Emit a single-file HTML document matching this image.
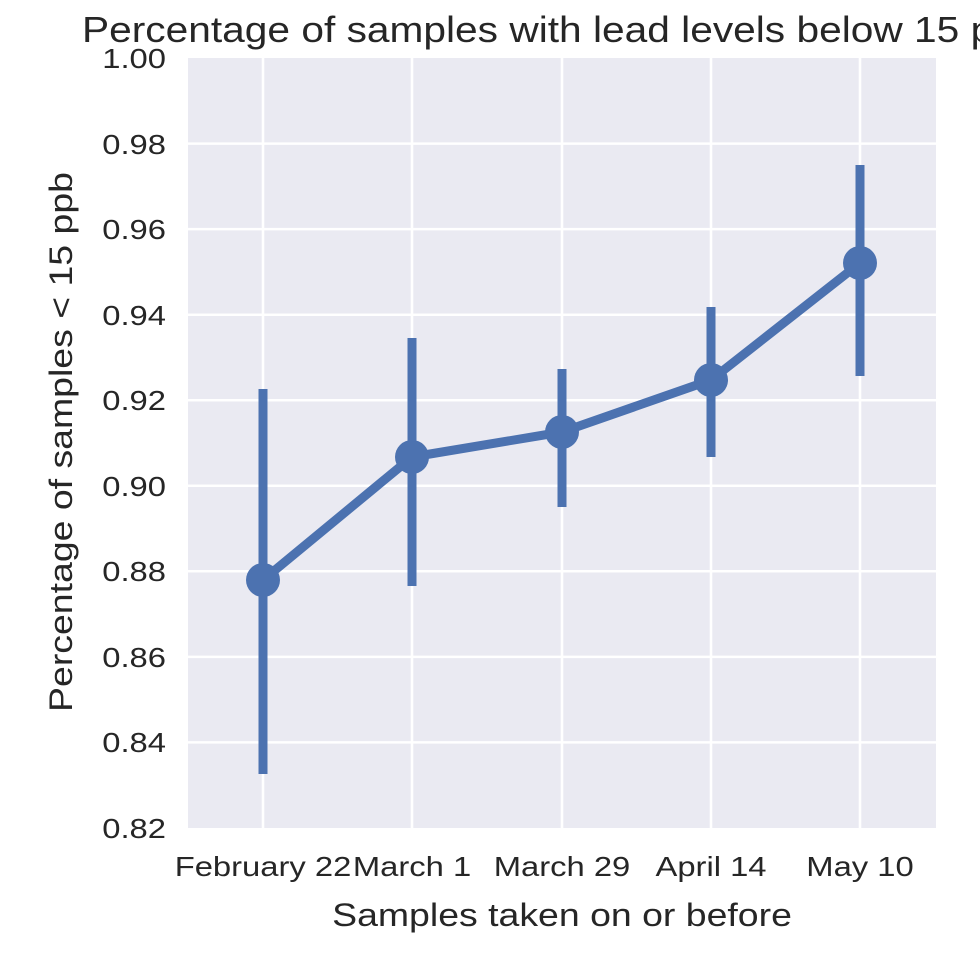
<!DOCTYPE html>
<html><head><style>
html,body{margin:0;padding:0;background:#fff;}
svg{display:block;font-family:"Liberation Sans",sans-serif;}
</style></head><body>
<svg width="980" height="980" viewBox="0 0 980 980" xmlns="http://www.w3.org/2000/svg">
<rect x="188" y="58" width="748" height="770" fill="#eaeaf2"/>
<g stroke="#fff" stroke-width="2.5">
<line x1="188" x2="936" y1="143.6" y2="143.6"/>
<line x1="188" x2="936" y1="229.1" y2="229.1"/>
<line x1="188" x2="936" y1="314.7" y2="314.7"/>
<line x1="188" x2="936" y1="400.2" y2="400.2"/>
<line x1="188" x2="936" y1="485.8" y2="485.8"/>
<line x1="188" x2="936" y1="571.3" y2="571.3"/>
<line x1="188" x2="936" y1="656.9" y2="656.9"/>
<line x1="188" x2="936" y1="742.4" y2="742.4"/>
<line x1="263" x2="263" y1="58" y2="828"/>
<line x1="412" x2="412" y1="58" y2="828"/>
<line x1="562" x2="562" y1="58" y2="828"/>
<line x1="711" x2="711" y1="58" y2="828"/>
<line x1="860" x2="860" y1="58" y2="828"/>
</g>
<g stroke="#4c72b0" stroke-width="9" stroke-linecap="butt">
<line x1="263" x2="263" y1="389" y2="774"/>
<line x1="412" x2="412" y1="338" y2="586"/>
<line x1="562" x2="562" y1="369" y2="507"/>
<line x1="711" x2="711" y1="307" y2="457"/>
<line x1="860" x2="860" y1="165" y2="376"/>
</g>
<polyline points="263,580 412,457 562,432 711,380 860,263" fill="none" stroke="#4c72b0" stroke-width="9" stroke-linejoin="round"/>
<g fill="#4c72b0">
<circle cx="263" cy="580" r="17"/>
<circle cx="412" cy="457" r="17"/>
<circle cx="562" cy="432" r="17"/>
<circle cx="711" cy="380" r="17"/>
<circle cx="860" cy="263" r="17"/>
</g>
<g font-size="28" fill="#262626" text-anchor="end">
<text transform="translate(166,68) scale(1.17,1)">1.00</text>
<text transform="translate(166,154) scale(1.17,1)">0.98</text>
<text transform="translate(166,239) scale(1.17,1)">0.96</text>
<text transform="translate(166,325) scale(1.17,1)">0.94</text>
<text transform="translate(166,410) scale(1.17,1)">0.92</text>
<text transform="translate(166,496) scale(1.17,1)">0.90</text>
<text transform="translate(166,581) scale(1.17,1)">0.88</text>
<text transform="translate(166,667) scale(1.17,1)">0.86</text>
<text transform="translate(166,752) scale(1.17,1)">0.84</text>
<text transform="translate(166,838) scale(1.17,1)">0.82</text>
</g>
<g font-size="28" fill="#262626" text-anchor="middle">
<text transform="translate(263,876) scale(1.17,1)">February 22</text>
<text transform="translate(412,876) scale(1.17,1)">March 1</text>
<text transform="translate(562,876) scale(1.17,1)">March 29</text>
<text transform="translate(711,876) scale(1.17,1)">April 14</text>
<text transform="translate(860,876) scale(1.17,1)">May 10</text>
</g>
<text transform="translate(562,926) scale(1.17,1)" font-size="32" fill="#262626" text-anchor="middle">Samples taken on or before</text>
<text transform="translate(72,442) rotate(-90) scale(1.17,1)" font-size="32" fill="#262626" text-anchor="middle">Percentage of samples &lt; 15 ppb</text>
<text transform="translate(82,42) scale(1.13,1)" font-size="36" fill="#262626">Percentage of samples with lead levels below 15 ppb</text>
</svg>
</body></html>
